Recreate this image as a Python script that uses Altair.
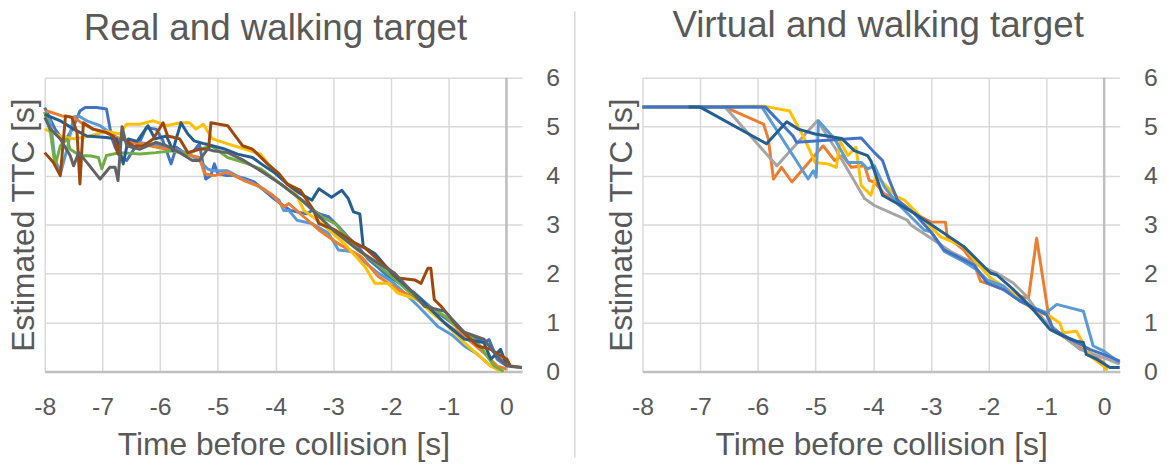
import altair as alt
import pandas as pd

# ---------------- data: (time before collision [s], estimated TTC [s]) ----------------
# Left panel: "Real and walking target"
L_BLUE = [(-8.0, 5.39), (-7.93, 5.22), (-7.82, 4.95), (-7.7, 4.75), (-7.61, 4.78), (-7.5, 5.0),
          (-7.39, 5.32), (-7.3, 5.39), (-7.1, 5.39), (-6.93, 5.36), (-6.84, 4.78), (-6.78, 4.58),
          (-6.7, 4.41), (-6.58, 4.31), (-6.47, 4.51), (-6.35, 4.7), (-6.24, 4.98), (-6.07, 4.95),
          (-5.95, 4.71), (-5.81, 4.24), (-5.72, 4.58), (-5.55, 4.44), (-5.42, 4.5), (-5.32, 4.65),
          (-5.21, 3.93), (-5.12, 4.0), (-5.06, 4.24), (-5.0, 4.04), (-4.85, 4.0), (-4.72, 4.0),
          (-4.55, 3.95), (-4.37, 3.87), (-4.2, 3.7), (-4.03, 3.53), (-3.88, 3.4), (-3.74, 3.29),
          (-3.6, 3.25), (-3.46, 3.22), (-3.37, 3.29), (-3.2, 3.2), (-3.08, 3.16), (-2.9, 2.95),
          (-2.75, 2.75), (-2.57, 2.55), (-2.4, 2.3), (-2.2, 2.1), (-2.05, 1.94), (-1.85, 1.8),
          (-1.59, 1.6), (-1.4, 1.4), (-1.19, 1.2), (-0.95, 1.0), (-0.73, 0.79), (-0.55, 0.7),
          (-0.39, 0.59), (-0.3, 0.65), (-0.16, 0.25), (0.01, 0.11)]
L_LIGHTBLUE = [(-8.0, 5.3), (-7.9, 5.1), (-7.82, 4.31), (-7.72, 4.07), (-7.6, 4.6), (-7.5, 5.2),
               (-7.41, 5.22), (-7.27, 5.12), (-7.04, 5.02), (-6.75, 4.78), (-6.47, 4.68), (-6.18, 4.65),
               (-5.89, 4.58), (-5.55, 4.47), (-5.32, 4.31), (-5.18, 4.14), (-5.09, 4.1), (-4.83, 4.1),
               (-4.6, 3.95), (-4.37, 3.83), (-4.09, 3.63), (-3.94, 3.5), (-3.86, 3.29), (-3.77, 3.29),
               (-3.63, 3.09), (-3.37, 3.02), (-3.08, 2.82), (-2.91, 2.48), (-2.68, 2.45), (-2.51, 2.28),
               (-2.22, 2.01), (-2.0, 1.85), (-1.76, 1.6), (-1.5, 1.3), (-1.19, 0.92), (-0.95, 0.75),
               (-0.73, 0.52), (-0.5, 0.35), (-0.27, 0.11), (-0.1, 0.05)]
L_ORANGE = [(-8.0, 5.25), (-7.96, 5.32), (-7.7, 5.22), (-7.5, 5.19), (-7.33, 5.05), (-7.16, 4.95),
            (-6.93, 4.88), (-6.7, 4.75), (-6.47, 4.68), (-6.18, 4.61), (-5.89, 4.54), (-5.55, 4.44),
            (-5.32, 4.37), (-5.23, 4.04), (-5.06, 4.0), (-4.83, 4.07), (-4.55, 3.9), (-4.26, 3.77),
            (-4.05, 3.6), (-3.86, 3.36), (-3.77, 3.43), (-3.51, 3.16), (-3.25, 2.89), (-2.9, 2.6),
            (-2.51, 2.34), (-2.22, 1.94), (-1.88, 1.67), (-1.54, 1.47), (-1.3, 1.25), (-1.07, 0.99),
            (-0.73, 0.72), (-0.39, 0.38), (-0.16, 0.11), (0.0, 0.05)]
L_YELLOW = [(-8.0, 4.95), (-7.73, 4.81), (-7.5, 4.75), (-7.21, 4.81), (-6.93, 4.91), (-6.7, 4.85),
            (-6.58, 5.05), (-6.35, 5.05), (-6.12, 5.12), (-5.89, 5.02), (-5.66, 5.08), (-5.49, 5.08),
            (-5.38, 4.95), (-5.25, 5.05), (-5.15, 4.85), (-5.09, 4.75), (-4.83, 4.65), (-4.55, 4.55),
            (-4.26, 4.44), (-4.1, 4.2), (-3.91, 3.97), (-3.68, 3.7), (-3.51, 3.29), (-3.2, 3.02),
            (-2.8, 2.6), (-2.45, 2.14), (-2.28, 1.8), (-2.05, 1.8), (-1.88, 1.6), (-1.54, 1.47),
            (-1.3, 1.2), (-1.07, 0.99), (-0.73, 0.59), (-0.5, 0.35), (-0.27, 0.11), (-0.1, 0.0)]
L_GREEN = [(-8.0, 5.3), (-7.9, 4.88), (-7.82, 4.2), (-7.73, 4.61), (-7.61, 4.75), (-7.56, 4.54),
           (-7.39, 4.41), (-7.2, 4.4), (-7.07, 4.37), (-7.01, 4.14), (-6.93, 4.41), (-6.7, 4.47),
           (-6.35, 4.44), (-6.07, 4.47), (-5.78, 4.51), (-5.55, 4.44), (-5.32, 4.54), (-5.1, 4.6),
           (-4.83, 4.37), (-4.5, 4.25), (-4.26, 4.14), (-3.91, 3.83), (-3.51, 3.46), (-3.2, 3.16),
           (-2.97, 3.02), (-2.57, 2.48), (-2.3, 2.25), (-1.99, 1.94), (-1.54, 1.47), (-1.07, 1.13),
           (-0.8, 0.85), (-0.5, 0.59), (-0.21, 0.11), (-0.05, 0.0)]
L_DARKBLUE = [(-8.0, 5.25), (-7.73, 5.12), (-7.5, 4.95), (-7.27, 4.81), (-6.93, 4.78), (-6.75, 4.75),
              (-6.64, 4.24), (-6.55, 4.75), (-6.4, 4.7), (-6.21, 5.02), (-6.09, 4.75), (-5.89, 4.81),
              (-5.78, 4.51), (-5.64, 5.08), (-5.52, 4.85), (-5.41, 4.71), (-5.23, 4.65), (-4.9, 4.55),
              (-4.66, 4.44), (-4.4, 4.37), (-4.2, 4.2), (-4.03, 4.07), (-3.8, 3.83), (-3.57, 3.63),
              (-3.37, 3.5), (-3.25, 3.73), (-3.03, 3.56), (-2.85, 3.7), (-2.74, 3.53), (-2.65, 3.26),
              (-2.54, 3.22), (-2.48, 2.55), (-2.28, 2.41), (-1.99, 2.01), (-1.54, 1.53), (-1.07, 0.99),
              (-0.73, 0.66), (-0.39, 0.59), (-0.27, 0.25), (-0.1, 0.45), (0.01, 0.11)]
L_BROWN = [(-8.0, 4.47), (-7.85, 4.27), (-7.73, 4.0), (-7.64, 5.22), (-7.53, 5.19), (-7.44, 4.88),
           (-7.39, 3.83), (-7.33, 5.08), (-7.16, 4.95), (-6.93, 4.88), (-6.81, 4.81), (-6.73, 4.44),
           (-6.67, 4.78), (-6.47, 4.61), (-6.3, 4.6), (-6.12, 4.75), (-5.95, 5.08), (-5.87, 4.81),
           (-5.66, 4.75), (-5.52, 4.47), (-5.32, 4.54), (-5.16, 4.55), (-5.12, 5.08), (-4.83, 5.02),
           (-4.57, 4.61), (-4.4, 4.54), (-4.14, 4.24), (-3.94, 4.04), (-3.8, 3.83), (-3.57, 3.7),
           (-3.34, 3.29), (-3.25, 3.02), (-2.97, 2.89), (-2.62, 2.62), (-2.45, 2.52), (-2.22, 2.28),
           (-1.99, 2.04), (-1.88, 1.91), (-1.59, 1.87), (-1.48, 1.8), (-1.36, 2.11), (-1.31, 2.11),
           (-1.25, 1.47), (-1.13, 1.33), (-0.85, 0.92), (-0.5, 0.52), (-0.27, 0.45), (0.01, 0.25),
           (0.07, 0.11), (0.27, 0.08)]
L_DARKGRAY = [(-8.0, 5.19), (-7.9, 4.95), (-7.73, 4.75), (-7.56, 4.41), (-7.5, 4.2), (-7.41, 4.47),
              (-7.27, 4.27), (-7.04, 3.93), (-6.87, 4.17), (-6.78, 4.17), (-6.73, 3.9), (-6.66, 5.0),
              (-6.58, 4.61), (-6.35, 4.54), (-6.07, 4.68), (-5.89, 4.61), (-5.66, 4.47), (-5.44, 4.31),
              (-5.32, 4.31), (-5.18, 4.54), (-5.09, 4.51), (-4.83, 4.47), (-4.55, 4.31), (-4.26, 4.1),
              (-3.91, 3.83), (-3.54, 3.5), (-2.97, 2.85), (-2.57, 2.48), (-2.22, 2.21), (-1.94, 2.01),
              (-1.59, 1.57), (-1.42, 1.33), (-1.07, 1.23), (-0.73, 0.8), (-0.39, 0.66), (-0.21, 0.38),
              (0.01, 0.11), (0.27, 0.08)]

# Right panel: "Virtual and walking target"
R_ORANGE = [(-8.0, 5.4), (-6.57, 5.4), (-5.9, 5.05), (-5.82, 4.75), (-5.73, 3.93), (-5.59, 4.17),
            (-5.41, 3.87), (-4.87, 4.61), (-4.67, 4.31), (-4.53, 4.41), (-4.38, 4.17), (-4.15, 4.2),
            (-4.07, 3.9), (-3.98, 3.87), (-3.81, 3.63), (-3.58, 3.5), (-3.29, 3.23), (-3.0, 3.05),
            (-2.75, 3.05), (-2.72, 2.75), (-2.43, 2.48), (-2.26, 2.21), (-2.14, 1.84), (-2.03, 1.8),
            (-1.74, 1.67), (-1.45, 1.53), (-1.31, 1.5), (-1.17, 2.72), (-0.97, 1.2), (-0.91, 0.92),
            (-0.71, 0.72), (-0.48, 0.52), (-0.25, 0.38), (-0.01, 0.18), (0.04, 0.05)]
R_GRAY = [(-8.0, 5.4), (-6.57, 5.4), (-5.67, 4.2), (-4.97, 5.12), (-4.67, 4.58), (-4.15, 3.53),
          (-3.98, 3.39), (-3.41, 3.09), (-3.35, 2.99), (-3.0, 2.72), (-2.66, 2.45), (-2.26, 2.21),
          (-1.86, 2.01), (-1.57, 1.8), (-1.34, 1.53), (-1.05, 1.06), (-0.71, 0.72), (-0.42, 0.45),
          (-0.01, 0.28), (0.27, 0.15)]
R_YELLOW = [(-8.0, 5.4), (-5.9, 5.42), (-5.45, 5.32), (-5.19, 4.75), (-5.01, 4.27), (-4.79, 4.24),
            (-4.64, 4.17), (-4.58, 4.71), (-4.44, 4.41), (-4.3, 4.58), (-4.21, 3.8), (-4.04, 3.6),
            (-3.95, 4.0), (-3.81, 3.83), (-3.58, 3.56), (-3.46, 3.5), (-3.18, 3.16), (-2.83, 2.75),
            (-2.43, 2.55), (-2.2, 2.21), (-1.97, 1.91), (-1.74, 1.74), (-1.51, 1.53), (-1.23, 1.26),
            (-0.94, 1.13), (-0.77, 0.99), (-0.71, 0.79), (-0.48, 0.82), (-0.25, 0.32), (-0.01, 0.11),
            (0.05, 0.02)]
R_LIGHTBLUE = [(-8.0, 5.4), (-5.93, 5.4), (-5.13, 3.93), (-5.04, 4.1), (-4.99, 3.97), (-4.95, 5.12),
               (-4.67, 4.75), (-4.44, 4.27), (-4.21, 4.27), (-4.1, 4.14), (-3.98, 4.2), (-3.81, 3.77),
               (-3.58, 3.43), (-3.12, 2.89), (-3.0, 2.85), (-2.77, 2.45), (-2.43, 2.24), (-2.2, 2.07),
               (-2.03, 1.87), (-1.74, 1.74), (-1.57, 1.53), (-1.28, 1.33), (-1.0, 1.2), (-0.82, 1.37),
               (-0.36, 1.23), (-0.19, 0.52), (-0.01, 0.42), (0.27, 0.18)]
R_BLUE = [(-8.0, 5.4), (-5.87, 5.4), (-5.39, 4.81), (-5.33, 4.68), (-4.21, 4.77), (-3.98, 4.47),
          (-3.84, 4.31), (-3.72, 3.9), (-3.58, 3.5), (-3.29, 3.23), (-3.0, 2.85), (-2.77, 2.48),
          (-2.43, 2.28), (-2.26, 2.18), (-2.03, 1.81), (-1.74, 1.67), (-1.45, 1.43), (-1.28, 1.33),
          (-1.0, 1.16), (-0.88, 0.86), (-0.59, 0.66), (-0.36, 0.52), (-0.25, 0.45), (-0.01, 0.35),
          (0.27, 0.21)]
R_DARKBLUE = [(-7.2, 5.4), (-7.0, 5.4), (-5.85, 4.65), (-5.5, 5.1), (-5.3, 4.95), (-5.01, 4.85),
              (-4.55, 4.76), (-4.33, 4.51), (-4.1, 4.41), (-4.04, 4.3), (-3.84, 3.6), (-3.29, 3.23),
              (-2.43, 2.55), (-1.97, 2.01), (-1.86, 1.97), (-1.57, 1.67), (-1.28, 1.33), (-0.94, 0.86),
              (-0.71, 0.72), (-0.48, 0.62), (-0.36, 0.59), (-0.31, 0.35), (-0.13, 0.25), (0.1, 0.08),
              (0.27, 0.08)]

X_TICKS = [-8, -7, -6, -5, -4, -3, -2, -1, 0]
Y_TICKS = [0, 1, 2, 3, 4, 5, 6]
TITLES = ["Real and walking target", "Virtual and walking target"]
X_TITLE = "Time before collision [s]"
Y_TITLE = "Estimated TTC [s]"

# ---------------- styling ----------------
FONT = "Liberation Sans"
TEXT = "#595959"
GRID = "#d9d9d9"
AXLINE = "#bfbfbf"
W, H = 481, 296

LEFT_SERIES = [
    (L_BLUE, "#4472C4"), (L_LIGHTBLUE, "#5B9BD5"), (L_ORANGE, "#ED7D31"), (L_YELLOW, "#FFC000"),
    (L_GREEN, "#70AD47"), (L_DARKBLUE, "#255E91"), (L_BROWN, "#9E480E"), (L_DARKGRAY, "#636363"),
]
RIGHT_SERIES = [
    (R_ORANGE, "#ED7D31"), (R_GRAY, "#A5A5A5"), (R_YELLOW, "#FFC000"), (R_LIGHTBLUE, "#5B9BD5"),
    (R_BLUE, "#4472C4"), (R_DARKBLUE, "#255E91"),
]

x_scale = alt.Scale(domain=[-8, 0.27], nice=False, zero=False)
y_scale = alt.Scale(domain=[0, 6], nice=False)

x_axis = alt.Axis(
    values=X_TICKS, labelExpr="'' + datum.value", grid=True, gridColor=GRID, gridWidth=1.5,
    domain=True, domainColor=AXLINE, domainWidth=2.5, ticks=False, tickSize=0,
    labelPadding=23, labelFontSize=25, labelFont=FONT, labelColor=TEXT, labelFlush=False,
    title=X_TITLE, titleFontSize=32, titleFont=FONT, titleColor=TEXT, titleFontWeight="normal",
    titleX=W / 2, titleY=84, titleAlign="center", titleBaseline="alphabetic",
)
y_axis = alt.Axis(
    orient="right", values=Y_TICKS, grid=True, gridColor=GRID, gridWidth=1.5,
    domain=False, ticks=False, tickSize=0, labelPadding=24, labelFontSize=25, labelFont=FONT,
    labelColor=TEXT, labelFlush=False,
    title=Y_TITLE, titleFontSize=32, titleFont=FONT, titleColor=TEXT, titleFontWeight="normal",
    titleAngle=-90, titleX=-492, titleY=H / 2, titleAlign="center", titleBaseline="alphabetic",
)


def panel(title, series, separator, title_dx, title_dy):
    layers = []
    for pts, color in series:
        df = pd.DataFrame(pts, columns=["t", "ttc"])
        layers.append(
            alt.Chart(df).mark_line(color=color, strokeWidth=3, strokeJoin="round").encode(
                x=alt.X("t:Q", scale=x_scale, axis=x_axis),
                y=alt.Y("ttc:Q", scale=y_scale, axis=y_axis),
            )
        )
    zero_line = alt.Chart(pd.DataFrame({"t": [0.0]})).mark_rule(color=AXLINE, strokeWidth=2.5).encode(
        x=alt.X("t:Q", scale=x_scale, axis=x_axis)
    )
    all_layers = [zero_line] + layers
    if separator:
        sep = alt.Chart(pd.DataFrame({"k": [0]})).mark_rule(color=GRID, strokeWidth=1.5).encode(
            x=alt.value(-68.2), y=alt.value(-66.7), y2=alt.value(383)
        )
        all_layers = [sep] + all_layers
    return alt.layer(*all_layers).properties(
        width=W, height=H,
        title=alt.TitleParams(
            text=title, fontSize=37, font=FONT, color=TEXT, fontWeight="normal",
            anchor="middle", frame="group", baseline="alphabetic", offset=38,
            dx=title_dx, dy=title_dy,
        ),
    )


left = panel(TITLES[0], LEFT_SERIES, False, -8, 48.8)
right = panel(TITLES[1], RIGHT_SERIES, True, -3, 101.5)

chart = alt.hconcat(left, right, spacing=121.4, bounds="flush").properties(
    padding={"left": 0, "top": -2.5, "right": 5, "bottom": 0}
).configure_view(stroke=None)

chart.save("out.html", embed_options={"renderer": "svg", "actions": False})
